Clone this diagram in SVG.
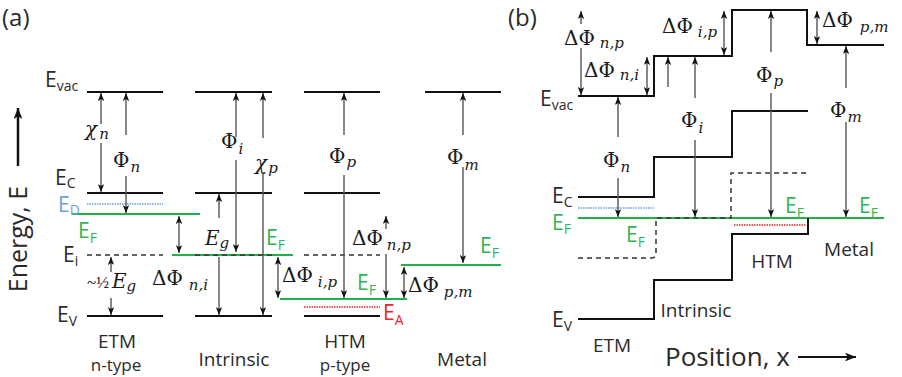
<svg xmlns="http://www.w3.org/2000/svg" width="902" height="377" viewBox="0 0 902 377">
<defs>
<marker id="ah" viewBox="0 0 10 8" refX="10" refY="4" markerWidth="8" markerHeight="6.4" markerUnits="userSpaceOnUse" orient="auto-start-reverse"><path d="M0,0 L10,4 L0,8 L2.5,4 z" fill="#111"/></marker>
<marker id="ahb" viewBox="0 0 10 8" refX="10" refY="4" markerWidth="11" markerHeight="8.8" markerUnits="userSpaceOnUse" orient="auto-start-reverse"><path d="M0,0 L10,4 L0,8 L2.5,4 z" fill="#111"/></marker>
</defs>
<style>
.lv{fill:none;stroke:#111;stroke-width:2}
.gr{fill:none;stroke:#21b04b;stroke-width:2}
.ds{fill:none;stroke:#333;stroke-width:1.5;stroke-dasharray:5 4}
.bl{fill:none;stroke:#6f9fe0;stroke-width:1.5;stroke-dasharray:1.5 1}
.rd{fill:none;stroke:#e8262a;stroke-width:1.5;stroke-dasharray:1.5 1}
.a1{fill:none;stroke:#555;stroke-width:1.4;marker-end:url(#ah)}
.a2{fill:none;stroke:#555;stroke-width:1.4;marker-start:url(#ah);marker-end:url(#ah)}
.t{font-family:"Open Sans","Liberation Sans",sans-serif;fill:#2a2a2a}
.e{font-family:"Open Sans","Liberation Sans",sans-serif;font-size:21px;fill:#2a2a2a}
.eg{font-family:"Open Sans","Liberation Sans",sans-serif;font-size:21px;fill:#34b553}
.eb{font-family:"Open Sans","Liberation Sans",sans-serif;font-size:21px;fill:#6f9fe0}
.er{font-family:"Open Sans","Liberation Sans",sans-serif;font-size:21px;fill:#e8262a}
.s{font-size:14px}
.m{font-family:"DejaVu Serif","Liberation Serif",serif;font-size:20px;fill:#1a1a1a}
.mi{font-style:italic}
.ms{font-family:"DejaVu Serif","Liberation Serif",serif;font-size:15px;font-style:italic}
</style>

<g id="panel-a">
<text class="t" x="2" y="26" font-size="24">(a)</text>
<g id="energy-axis">
<path d="M18,166 V108" fill="none" stroke="#111" stroke-width="2.5" marker-end="url(#ahb)"/>
<text class="t" font-size="25" transform="translate(27,239) rotate(-90)" text-anchor="middle">Energy, E</text>
</g>

<g id="etm-a">
<path class="lv" d="M87,92 H163 M87,193 H163 M87,316 H163"/>
<path class="bl" d="M87,204 H163"/>
<path class="ds" d="M87,255 H163"/>
<path class="gr" d="M72,214 H200"/>
<text class="e" x="45" y="87">E<tspan class="s" dy="4">vac</tspan></text>
<text class="e" x="55" y="185" font-size="20">E<tspan class="s" dy="3">C</tspan></text>
<text class="eb" x="58" y="212" font-size="18">E<tspan class="s" dy="3" font-size="13">D</tspan></text>
<text class="eg" x="78" y="238">E<tspan class="s" dy="5">F</tspan></text>
<text class="e" x="63" y="262">E<tspan class="s" dy="4">i</tspan></text>
<text class="e" x="57" y="322">E<tspan class="s" dy="4">V</tspan></text>
<text class="m mi" x="85" y="136">χ<tspan class="ms" dx="2" dy="3">n</tspan></text>
<text class="m" x="113" y="167">Φ<tspan class="ms" dx="1" dy="5">n</tspan></text>
<text x="87" y="288" font-family="Liberation Serif,serif" font-size="17" fill="#1a1a1a">~½</text>
<text class="m mi" x="112" y="288">E<tspan class="ms" dy="3">g</tspan></text>
<text class="t" x="117" y="348" font-size="19" text-anchor="middle">ETM</text>
<text class="t" x="116" y="371" font-size="17" text-anchor="middle">n-type</text>
</g>

<g id="intrinsic-a">
<path class="lv" d="M195,92 H272 M195,193 H272 M195,316 H272"/>
<path class="gr" d="M172,255 H293"/>
<path class="ds" d="M195,255 H272"/>
<text class="m" x="221" y="148">Φ<tspan class="ms" dx="1" dy="6">i</tspan></text>
<text class="m mi" x="255" y="170">χ<tspan class="ms" dx="1" dy="3">p</tspan></text>
<text class="m mi" x="205" y="245">E<tspan class="ms" dy="3">g</tspan></text>
<text class="eg" x="266" y="245">E<tspan class="s" dy="5">F</tspan></text>
<text class="m" x="152" y="285">ΔΦ<tspan class="ms" dx="6" dy="5">n,i</tspan></text>
<text class="t" x="234" y="366" font-size="19" text-anchor="middle">Intrinsic</text>
</g>

<g id="htm-a">
<path class="lv" d="M304,92 H380 M304,193 H380 M304,316 H380"/>
<path class="ds" d="M304,255 H380"/>
<path class="rd" d="M304,307 H380"/>
<path class="gr" d="M280,299 H407"/>
<text class="m" x="329" y="163">Φ<tspan class="ms" dx="1" dy="4">p</tspan></text>
<text class="m" x="352" y="245">ΔΦ<tspan class="ms" dx="4" dy="5">n,p</tspan></text>
<text class="m" x="282" y="282">ΔΦ<tspan class="ms" dx="5" dy="5">i,p</tspan></text>
<text class="eg" x="357" y="290">E<tspan class="s" dy="5">F</tspan></text>
<text class="er" x="383" y="320">E<tspan class="s" dy="5">A</tspan></text>
<text class="t" x="345" y="348" font-size="19" text-anchor="middle">HTM</text>
<text class="t" x="345" y="371" font-size="17" text-anchor="middle">p-type</text>
</g>

<g id="metal-a">
<path class="lv" d="M425,92 H501"/>
<path class="gr" d="M401,265 H501"/>
<text class="m" x="447" y="164">Φ<tspan class="ms" dx="1" dy="6">m</tspan></text>
<text class="m" x="408" y="292">ΔΦ<tspan class="ms" dx="5" dy="5">p,m</tspan></text>
<text class="eg" x="480" y="253">E<tspan class="s" dy="5">F</tspan></text>
<text class="t" x="462" y="366" font-size="19" text-anchor="middle">Metal</text>
</g>
</g>

<g id="connectors-a">
<path class="a1" d="M101,124 V93"/>
<path class="a1" d="M101,143 V192"/>
<path class="a1" d="M126,135 V93"/>
<path class="a1" d="M126,176 V213"/>
<path class="a1" d="M111,272 V257"/>
<path class="a1" d="M111,298 V315"/>
<path class="a2" d="M179,216 V253"/>
<path class="a1" d="M236,137 V93"/>
<path class="a1" d="M236,160 V252"/>
<path class="a1" d="M263,138 V93"/>
<path class="a1" d="M263,172 V315"/>
<path class="a1" d="M219,218 V194"/>
<path class="a1" d="M219,257 V315"/>
<path class="a1" d="M344,135 V93"/>
<path class="a1" d="M344,175 V298"/>
<path class="a1" d="M386,229 V216"/>
<path class="a1" d="M386,254 V298"/>
<path class="a2" d="M278,257 V298"/>
<path class="a1" d="M463,135 V93"/>
<path class="a1" d="M463,167 V263"/>
<path class="a2" d="M404,267 V298"/>
</g>

<g id="panel-b">
<text class="t" x="508" y="26" font-size="24">(b)</text>
<g id="bands-b">
<path class="lv" d="M578,96 H654 V56 H732 V10 H807 V45 H884"/>
<path class="lv" d="M578,197 H654 V157 H732 V111 H808"/>
<path class="bl" d="M578,208 H654"/>
<path class="gr" d="M578,218 H884"/>
<path class="rd" d="M734,225 H806"/>
<path class="ds" d="M578,258 H651 Q656,258 656,253 V218 H731 V173 H808"/>
<path class="lv" d="M578,319 H654 V280 H732 V234 H808 V218"/>
</g>
<g id="labels-b">
<text class="e" x="540" y="106">E<tspan class="s" dy="4">vac</tspan></text>
<text class="e" x="552" y="203" font-size="20">E<tspan class="s" dy="4">C</tspan></text>
<text class="eg" x="552" y="230" font-size="20">E<tspan class="s" dy="4">F</tspan></text>
<text class="eg" x="626" y="242">E<tspan class="s" dy="5">F</tspan></text>
<text class="eg" x="785" y="213">E<tspan class="s" dy="5">F</tspan></text>
<text class="eg" x="859" y="213">E<tspan class="s" dy="5">F</tspan></text>
<text class="e" x="552" y="327">E<tspan class="s" dy="4">V</tspan></text>
<text class="m" x="564" y="45">ΔΦ<tspan class="ms" dx="5" dy="3">n,p</tspan></text>
<text class="m" x="584" y="77">ΔΦ<tspan class="ms" dx="5" dy="3">n,i</tspan></text>
<text class="m" x="662" y="33">ΔΦ<tspan class="ms" dx="5" dy="4">i,p</tspan></text>
<text class="m" x="822" y="27">ΔΦ<tspan class="ms" dx="7" dy="5">p,m</tspan></text>
<text class="m" x="681" y="127">Φ<tspan class="ms" dx="1" dy="6">i</tspan></text>
<text class="m" x="603" y="167">Φ<tspan class="ms" dx="1" dy="5">n</tspan></text>
<text class="m" x="756" y="82">Φ<tspan class="ms" dx="1" dy="4">p</tspan></text>
<text class="m" x="830" y="117">Φ<tspan class="ms" dx="1" dy="5">m</tspan></text>
<text class="t" x="612" y="352" font-size="19" text-anchor="middle">ETM</text>
<text class="t" x="696" y="317" font-size="19" text-anchor="middle">Intrinsic</text>
<text class="t" x="772" y="268" font-size="19" text-anchor="middle">HTM</text>
<text class="t" x="849" y="256" font-size="19" text-anchor="middle">Metal</text>
<text class="t" x="665" y="366" font-size="26">Position, x</text>
</g>
</g>

<g id="connectors-b">
<path d="M798,357 H856" fill="none" stroke="#111" stroke-width="2" marker-end="url(#ahb)"/>
<path class="a1" d="M581,24 V11"/>
<path class="a1" d="M581,48 V95"/>
<path class="a2" d="M647,57 V95"/>
<path class="a1" d="M668,87 V57"/>
<path class="a1" d="M695,98 V57"/>
<path class="a1" d="M695,140 V217"/>
<path class="a2" d="M724,11 V55"/>
<path class="a1" d="M771,52 V11"/>
<path class="a1" d="M771,93 V217"/>
<path class="a2" d="M817,11 V44"/>
<path class="a1" d="M846,88 V46"/>
<path class="a1" d="M846,122 V217"/>
<path class="a1" d="M618,137 V97"/>
<path class="a1" d="M618,178 V217"/>
</g>
</svg>
